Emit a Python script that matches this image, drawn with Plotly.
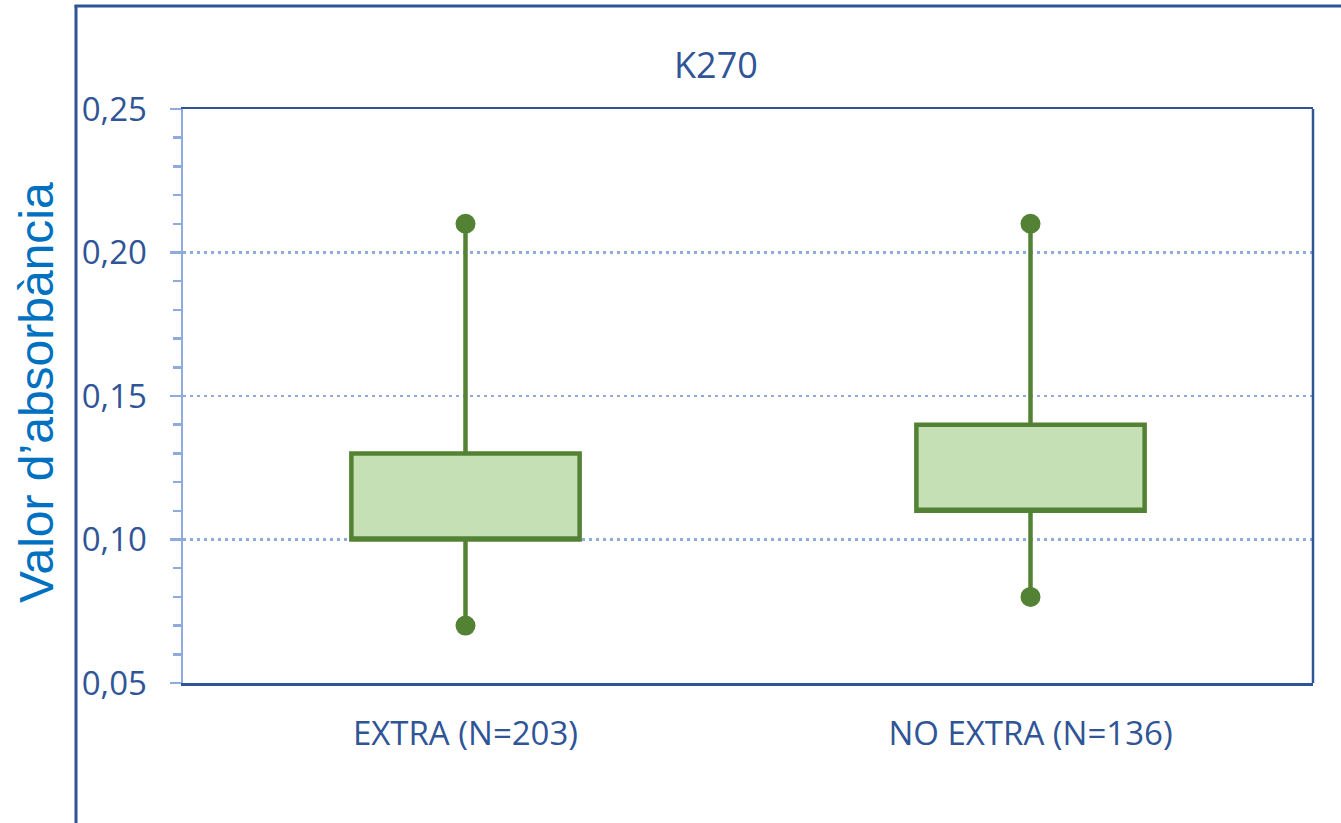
import plotly.graph_objects as go

categories = ["EXTRA (N=203)", "NO EXTRA (N=136)"]
q1_vals = [0.10, 0.11]
q3_vals = [0.13, 0.14]
median_vals = [0.10, 0.11]
lower_whisker = [0.07, 0.08]
upper_whisker = [0.21, 0.21]
y_ticks = [0.05, 0.10, 0.15, 0.20, 0.25]

W, H = 1341, 823
L, R, T, B = 183, 1313, 109, 683  # plot area in page pixels

def px(x):
    return (x - L) / (R - L)

def py(y):
    return (B - y) / (B - T)

GREEN = "#548235"
FILL = "#C5E0B4"
DARK = "#2F5597"
LIGHT = "#8FAADC"
TXT = "#2F5597"

fig = go.Figure()
fig.add_trace(go.Box(
    x=categories, q1=q1_vals, q3=q3_vals, median=median_vals,
    lowerfence=lower_whisker, upperfence=upper_whisker,
    width=0.404, whiskerwidth=0,
    fillcolor=FILL, line=dict(color=GREEN, width=4.5),
    boxpoints=False, showlegend=False, hoverinfo="skip",
))
fig.add_trace(go.Scatter(
    x=categories + categories, y=lower_whisker + upper_whisker,
    mode="markers", marker=dict(size=20, color=GREEN),
    showlegend=False, hoverinfo="skip",
))

fig.update_layout(
    width=W, height=H,
    margin=dict(l=L, r=W - R, t=T, b=H - B, pad=0),
    paper_bgcolor="white", plot_bgcolor="white",
    separators=",.",
    font=dict(family="Open Sans", color=TXT, size=33),
    xaxis=dict(
        type="category", categoryarray=categories, range=[-0.5, 1.5],
        showline=True, mirror=True, linecolor=DARK, linewidth=2.5,
        ticks="", showgrid=False, zeroline=False,
        tickfont=dict(family="Open Sans", size=33, color=TXT),
        ticklabelstandoff=20,
    ),
    yaxis=dict(
        range=[0.05, 0.25], tickvals=y_ticks, tickformat=".2f",
        showline=True, linecolor=LIGHT, linewidth=2.5, mirror=False,
        ticks="outside", ticklen=11, tickwidth=2.5, tickcolor=LIGHT,
        minor=dict(dtick=0.01, ticks="outside", ticklen=8, tickwidth=2.5,
                   tickcolor=LIGHT, showgrid=False),
        showgrid=True, gridcolor=LIGHT, gridwidth=2.5, griddash="3px,4px",
        zeroline=False,
        tickfont=dict(family="Open Sans", size=33, color=TXT),
        ticklabelstandoff=16,
    ),
    shapes=[
        dict(type="line", xref="paper", yref="paper", x0=1, x1=1, y0=0, y1=1,
             line=dict(color=DARK, width=2.5), layer="above"),
        dict(type="line", xref="paper", yref="paper", x0=px(76), x1=px(76),
             y0=py(5), y1=py(H + 40), line=dict(color=DARK, width=3)),
        dict(type="line", xref="paper", yref="paper", x0=px(74.5), x1=px(W + 40),
             y0=py(6), y1=py(6), line=dict(color=DARK, width=3)),
    ],
    annotations=[
        dict(text="K270", xref="paper", yref="paper", x=px(716), y=py(65),
             xanchor="center", yanchor="middle", showarrow=False,
             font=dict(family="Open Sans", size=36, color=TXT)),
        dict(text="Valor d\u2019absorb\u00e0ncia", xref="paper", yref="paper",
             x=px(36), y=py(393), xanchor="center", yanchor="middle",
             textangle=-90, showarrow=False,
             font=dict(family="Liberation Sans", size=48, color="#0070C0")),
    ],
)

fig.write_html(
    "out.html",
    config={"displayModeBar": False, "staticPlot": True},
    post_script="document.body.style.margin='0';document.body.style.overflow='hidden';",
)
